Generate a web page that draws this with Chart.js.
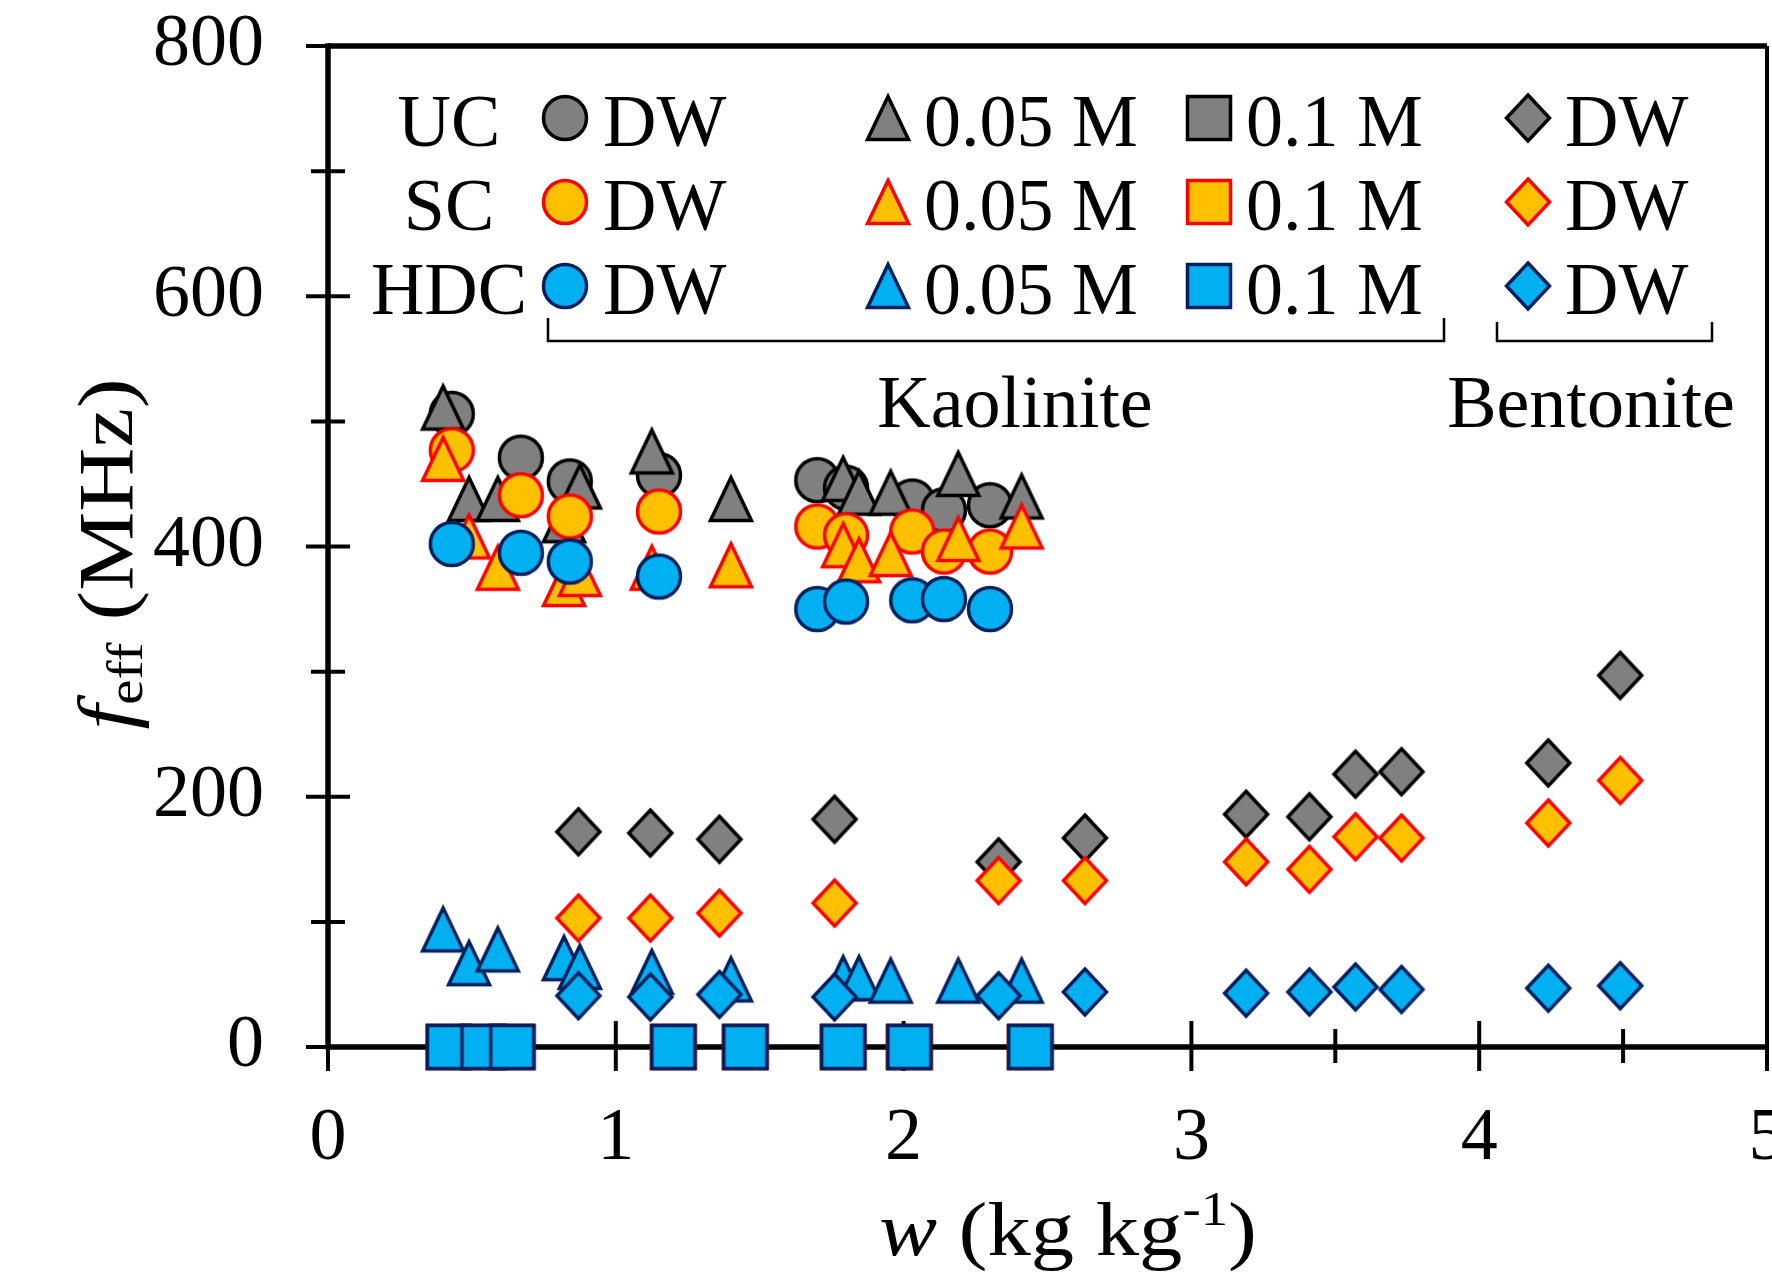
<!DOCTYPE html>
<html>
<head>
<meta charset="utf-8">
<script src="https://cdn.jsdelivr.net/npm/chart.js@4.4.0/dist/chart.umd.min.js"></script>
<style>
  html, body { margin: 0; padding: 0; background: #fff; }
  #wrap { width: 1772px; height: 1288px; }
</style>
</head>
<body>
<div id="wrap"><canvas id="graficoFeff" width="1772" height="1288"></canvas></div>
<script>
// water content w (kg kg-1) used by each kind of series
const wKaoDW = [0.43, 0.67, 0.84, 1.15, 1.70, 1.80, 2.03, 2.14, 2.30];
const wKao005 = [0.40, 0.49, 0.59, 0.82, 0.875, 1.125, 1.40, 1.79, 1.845, 1.955, 2.19, 2.41];
const wKao01 = [0.42, 0.54, 0.64, 1.20, 1.45, 1.79, 2.02, 2.44];
const wBenDW = [0.87, 1.12, 1.36, 1.76, 2.33, 2.63, 3.19, 3.41, 3.57, 3.73, 4.24, 4.49];

// f_eff (MHz) - UC
const ucKaoDW = [506, 471, 452, 457, 453, 447, 436, 429, 433];
const ucKao005 = [511, 438, 438, 421, 448, 476, 438, 454, 443, 443, 458, 440];
const ucKao01 = [0, 0, 0, 0, 0, 0, 0, 0];
const ucBenDW = [172, 171, 166, 182, 148, 167, 186, 184, 218, 220, 227, 297];

// f_eff (MHz) - SC
const scKaoDW = [477, 441, 424, 428, 416, 409, 412, 396, 396];
const scKao005 = [470, 408, 383, 370, 378, 383, 385, 401, 389, 394, 406, 416];
const scKao01 = [0, 0, 0, 0, 0, 0, 0, 0];
const scBenDW = [103, 103, 107, 115, 133, 133, 148, 142, 168, 167, 179, 213];

// f_eff (MHz) - HDC
const hdcKaoDW = [402, 395, 388, 376, 350, 356, 357, 358, 350];
const hdcKao005 = [94, 67, 78, 71, 64, 60, 54, 55, 55, 53, 53, 53];
const hdcKao01 = [0, 0, 0, 0, 0, 0, 0, 0];
const hdcBenDW = [41, 40, 42, 40, 41, 44, 43, 44, 48, 46, 47, 49];

const xTicks = [0, 1, 2, 3, 4, 5];
const xMinor = [0.5, 1.5, 2.5, 3.5, 4.5];
const yTicks = [0, 200, 400, 600, 800];
const yMinor = [100, 300, 500, 700];

const sensores = ["UC", "SC", "HDC"];
const rotulos = ["DW", "0.05 M", "0.1 M", "DW"];
const minerais = ["Kaolinite", "Bentonite"];

const FONTE = '"Liberation Serif", "Times New Roman", serif';
Chart.defaults.font.family = FONTE;
Chart.defaults.color = "#000";

const preenchimento = ["#808080", "#FFC000", "#00B0F0"];
const contorno = ["#000000", "#FF0000", "#002060"];

function makeMarker(shape, fill, stroke) {
    const s = 60, c = 30;
    const cv = document.createElement("canvas");
    cv.width = s;
    cv.height = s;
    const g = cv.getContext("2d");
    g.fillStyle = fill;
    g.strokeStyle = stroke;
    g.lineWidth = 3.5;
    g.lineJoin = "miter";
    g.beginPath();
    if (shape === "circle") {
        g.arc(c, c, 21.5, 0, Math.PI * 2);
    } else if (shape === "triangle") {
        g.moveTo(c, c - 21.5);
        g.lineTo(c + 20.5, c + 21.5);
        g.lineTo(c - 20.5, c + 21.5);
        g.closePath();
    } else if (shape === "square") {
        g.rect(c - 21.5, c - 21.5, 43, 43);
    } else {
        g.moveTo(c, c - 23);
        g.lineTo(c + 21.5, c);
        g.lineTo(c, c + 23);
        g.lineTo(c - 21.5, c);
        g.closePath();
    }
    g.fill();
    g.stroke();
    return cv;
}

const formas = ["circle", "triangle", "square", "diamond"];
const marcadores = sensores.map((s, i) => formas.map(f => makeMarker(f, preenchimento[i], contorno[i])));

function pts(w, f) {
    return w.map((x, i) => ({ x: x, y: f[i] }));
}

const series = [
    [ucKaoDW, ucKao005, ucKao01, ucBenDW],
    [scKaoDW, scKao005, scKao01, scBenDW],
    [hdcKaoDW, hdcKao005, hdcKao01, hdcBenDW],
];
const wPorForma = [wKaoDW, wKao005, wKao01, wBenDW];

const datasets = [];
let k = 0;
series.forEach((grupo, i) => {
    grupo.forEach((valores, j) => {
        datasets.push({
            label: sensores[i] + " " + rotulos[j],
            data: pts(wPorForma[j], valores),
            pointStyle: marcadores[i][j],
            pointRadius: 23,
            pointHoverRadius: 23,
            showLine: false,
            clip: false,
            order: 100 - k,
        });
        k++;
    });
});

function linha(ctx, x1, y1, x2, y2) {
    ctx.beginPath();
    ctx.moveTo(x1, y1);
    ctx.lineTo(x2, y2);
    ctx.stroke();
}

// draws rich text (italic / sub / superscript), stretched horizontally by sx
function textoPartes(ctx, partes, xc, base, sx) {
    let w = 0;
    partes.forEach(p => {
        ctx.font = p.font;
        w += ctx.measureText(p.t).width;
    });
    ctx.save();
    ctx.translate(xc - (w * sx) / 2, base);
    ctx.scale(sx, 1);
    let x = 0;
    partes.forEach(p => {
        ctx.font = p.font;
        ctx.fillText(p.t, x, p.dy || 0);
        x += ctx.measureText(p.t).width;
    });
    ctx.restore();
}

const eixosPlugin = {
    id: "eixos",
    beforeDatasetsDraw(chart) {
        const { ctx, chartArea: a, scales: { x, y } } = chart;
        ctx.save();
        ctx.strokeStyle = "#000";
        ctx.lineCap = "butt";
        // frame
        ctx.lineWidth = 5.5;
        linha(ctx, a.left, a.top, a.right, a.top);
        linha(ctx, a.left, a.top - 2.75, a.left, a.bottom + 2.75);
        linha(ctx, a.left, a.bottom, a.right, a.bottom);
        ctx.lineWidth = 4;
        linha(ctx, a.right, a.top, a.right, a.bottom);
        // ticks crossing the axes
        ctx.lineWidth = 4;
        yTicks.forEach(v => {
            const py = y.getPixelForValue(v);
            linha(ctx, a.left - 22, py, a.left + 22, py);
        });
        yMinor.forEach(v => {
            const py = y.getPixelForValue(v);
            linha(ctx, a.left - 17, py, a.left + 17, py);
        });
        xTicks.forEach(v => {
            const px = x.getPixelForValue(v);
            linha(ctx, px, a.bottom - 26, px, a.bottom + 24);
        });
        xMinor.forEach(v => {
            const px = x.getPixelForValue(v);
            linha(ctx, px, a.bottom - 18, px, a.bottom + 16);
        });
        ctx.restore();
    },
    afterDatasetsDraw(chart) {
        const ctx = chart.ctx;
        ctx.save();
        ctx.fillStyle = "#000";
        ctx.strokeStyle = "#000";
        ctx.textBaseline = "alphabetic";
        ctx.font = "74px " + FONTE;

        // legend grid
        const linhasY = [146, 230, 314];
        const marcX = [565, 888, 1209, 1528];
        const textoX = [603, 924, 1246, 1565];
        sensores.forEach((s, i) => {
            const base = linhasY[i];
            ctx.textAlign = "center";
            ctx.fillText(s, 449, base);
            ctx.textAlign = "left";
            rotulos.forEach((r, j) => {
                const m = marcadores[i][j];
                ctx.drawImage(m, marcX[j] - m.width / 2, base - 28 - m.height / 2);
                ctx.fillText(r, textoX[j], base);
            });
        });

        // brackets
        ctx.lineWidth = 2.5;
        ctx.beginPath();
        ctx.moveTo(548, 318); ctx.lineTo(548, 341); ctx.lineTo(1444, 341); ctx.lineTo(1444, 318);
        ctx.stroke();
        ctx.beginPath();
        ctx.moveTo(1497, 322); ctx.lineTo(1497, 341); ctx.lineTo(1712, 341); ctx.lineTo(1712, 322);
        ctx.stroke();
        ctx.textAlign = "center";
        ctx.fillText(minerais[0], 1015, 427);
        ctx.fillText(minerais[1], 1591, 427);

        // x axis title: w (kg kg-1)
        ctx.textAlign = "left";
        textoPartes(ctx, [
            { t: "w", font: "italic 76px " + FONTE },
            { t: " (kg kg", font: "76px " + FONTE },
            { t: "-1", font: "48px " + FONTE, dy: -30 },
            { t: ")", font: "76px " + FONTE },
        ], 1068, 1255, 1.14);

        // y axis title: f_eff (MHz)
        ctx.translate(132, 554);
        ctx.rotate(-Math.PI / 2);
        textoPartes(ctx, [
            { t: "f", font: "italic 78px " + FONTE },
            { t: "eff", font: "50px " + FONTE, dy: 10 },
            { t: " (MHz)", font: "78px " + FONTE },
        ], 0, 0, 1.14);
        ctx.restore();
    },
};

const ctx = document.getElementById("graficoFeff").getContext("2d");

new Chart(ctx, {
    type: "scatter",
    data: { datasets: datasets },
    options: {
        responsive: false,
        animation: false,
        events: [],
        layout: { autoPadding: false, padding: { left: 0, right: 5, top: 46, bottom: 0 } },
        plugins: {
            legend: { display: false },
            tooltip: { enabled: false },
        },
        scales: {
            x: {
                type: "linear",
                min: 0,
                max: 5,
                afterBuildTicks: s => { s.ticks = xTicks.map(v => ({ value: v })); },
                afterFit: s => { s.height = 241; s.paddingLeft = 0; s.paddingRight = 0; },
                grid: { display: false, drawTicks: false, tickLength: 0 },
                border: { display: false },
                ticks: { font: { size: 74 }, color: "#000", padding: 48, maxRotation: 0, autoSkip: false },
            },
            y: {
                type: "linear",
                min: 0,
                max: 800,
                afterBuildTicks: s => { s.ticks = yTicks.map(v => ({ value: v })); },
                afterFit: s => { s.width = 328; s.paddingTop = 0; s.paddingBottom = 0; },
                grid: { display: false, drawTicks: false, tickLength: 0 },
                border: { display: false },
                ticks: { font: { size: 74 }, color: "#000", padding: 64, autoSkip: false },
            },
        },
    },
    plugins: [eixosPlugin],
});
</script>
</body>
</html>
